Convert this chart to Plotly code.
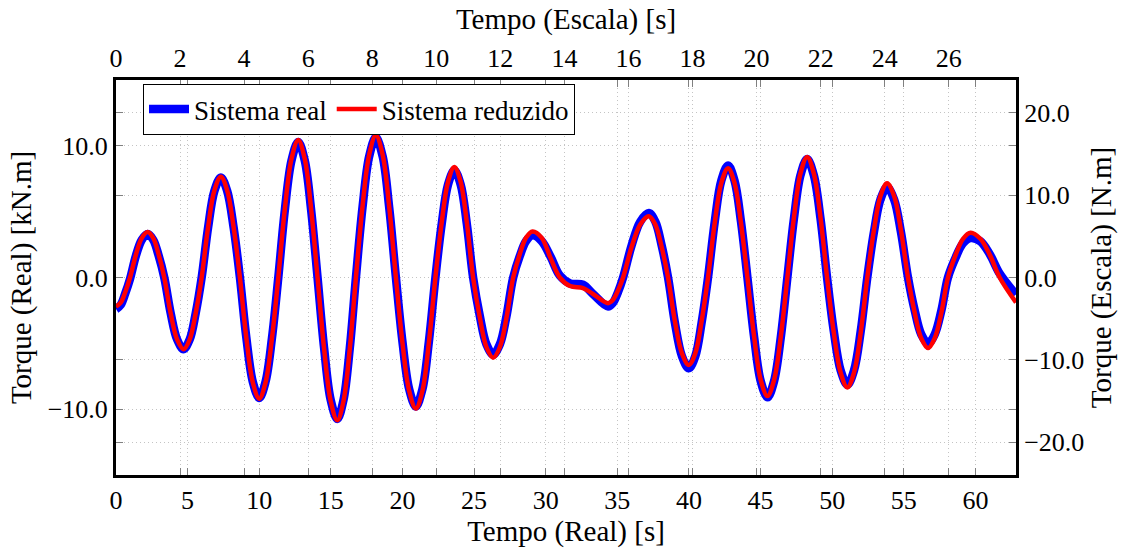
import plotly.graph_objects as go

# Time (real) [s]
t_real = [0.00, 0.33, 0.65, 0.98, 1.39, 1.80, 2.21, 2.60, 2.98, 3.37,
          3.82, 4.27, 4.72, 5.14, 5.56, 5.98, 6.43, 6.87, 7.32, 7.76,
          8.21, 8.65, 9.10, 9.55, 10.00, 10.44, 10.89, 11.33, 11.79, 12.26,
          12.72, 13.17, 13.62, 14.07, 14.53, 14.99, 15.45, 15.88, 16.32, 16.75,
          17.21, 17.68, 18.14, 18.61, 19.07, 19.54, 20.00, 20.47, 20.93, 21.39,
          21.84, 22.30, 22.74, 23.18, 23.62, 24.06, 24.49, 24.93, 25.40, 25.86,
          26.33, 26.80, 27.26, 27.73, 28.18, 28.63, 29.08, 29.71, 30.35, 30.98,
          31.70, 32.60, 33.30, 34.35, 34.70, 35.05, 35.40, 36.00, 36.60, 37.20,
          37.65, 38.09, 38.54, 39.02, 39.51, 39.99, 40.44, 40.88, 41.33, 41.80,
          42.26, 42.73, 43.18, 43.63, 44.08, 44.55, 45.01, 45.48, 45.94, 46.41,
          46.87, 47.33, 47.79, 48.25, 48.71, 49.18, 49.64, 50.11, 50.59, 51.06,
          51.52, 51.99, 52.45, 52.91, 53.37, 53.83, 54.32, 54.80, 55.29, 55.76,
          56.22, 56.69, 57.15, 57.62, 58.08, 58.61, 59.13, 59.66, 60.34, 61.01,
          61.69, 62.83]

# Torque, real system [kN.m]
torque_real = [-2.40, -2.08, -1.20, -0.10, 1.65, 2.86, 3.30, 2.86, 1.65, 0.00,
               -2.73, -4.72, -5.45, -4.72, -2.73, 0.00, 3.80, 6.58, 7.60, 6.58,
               3.80, 0.00, -4.58, -7.92, -9.15, -7.92, -4.58, 0.00, 5.15, 8.92,
               10.30, 8.92, 5.15, 0.00, -5.38, -9.31, -10.75, -9.31, -5.38, 0.00,
               5.33, 9.22, 10.65, 9.22, 5.33, 0.00, -4.90, -8.49, -9.80, -8.49,
               -4.90, 0.00, 4.08, 7.06, 8.15, 7.06, 4.08, 0.00, -2.93, -5.07,
               -5.85, -5.07, -2.93, 0.00, 1.60, 2.77, 3.20, 2.77, 1.55, 0.15,
               -0.45, -0.55, -1.25, -2.20, -1.91, -1.10, 0.00, 2.45, 4.24, 4.90,
               4.24, 2.45, 0.00, -3.45, -5.98, -6.90, -5.98, -3.45, 0.00, 4.25,
               7.36, 8.50, 7.36, 4.25, 0.00, -4.55, -7.88, -9.10, -7.88, -4.55,
               0.00, 4.50, 7.79, 9.00, 7.79, 4.50, 0.00, -4.08, -7.06, -8.15,
               -7.06, -4.08, 0.00, 3.43, 5.93, 6.85, 5.93, 3.43, 0.00, -2.50,
               -4.33, -5.00, -4.33, -2.50, 0.00, 1.50, 2.60, 3.00, 2.75, 1.75,
               0.30, -1.30]

# Torque, reduced system [kN.m]
torque_reduced = [-2.20, -1.91, -1.10, 0.00, 1.73, 2.99, 3.45, 2.99, 1.73, 0.00,
                  -2.73, -4.72, -5.45, -4.72, -2.73, 0.00, 3.83, 6.62, 7.65, 6.62,
                  3.83, 0.00, -4.60, -7.97, -9.20, -7.97, -4.60, 0.00, 5.23, 9.05,
                  10.45, 9.05, 5.23, 0.00, -5.43, -9.40, -10.85, -9.40, -5.43, 0.00,
                  5.40, 9.35, 10.80, 9.35, 5.40, 0.00, -4.98, -8.62, -9.95, -8.62,
                  -4.98, 0.00, 4.20, 7.27, 8.40, 7.27, 4.20, 0.00, -3.05, -5.28,
                  -6.10, -5.28, -3.05, 0.00, 1.75, 3.03, 3.50, 3.03, 1.45, 0.00,
                  -0.65, -0.80, -1.25, -1.95, -1.69, -0.98, 0.00, 2.33, 4.03, 4.65,
                  4.03, 2.33, 0.00, -3.33, -5.76, -6.65, -5.76, -3.33, 0.00, 4.15,
                  7.19, 8.30, 7.19, 4.15, 0.00, -4.50, -7.79, -9.00, -7.79, -4.50,
                  0.00, 4.58, 7.92, 9.15, 7.92, 4.58, 0.00, -4.18, -7.23, -8.35,
                  -7.23, -4.18, 0.00, 3.58, 6.19, 7.15, 6.19, 3.58, 0.00, -2.68,
                  -4.63, -5.35, -4.63, -2.68, 0.00, 1.70, 2.94, 3.40, 2.94, 1.70,
                  0.00, -1.90]

bottom_ticks = [0, 5, 10, 15, 20, 25, 30, 35, 40, 45, 50, 55, 60]
top_ticks = [0, 2, 4, 6, 8, 10, 12, 14, 16, 18, 20, 22, 24, 26]
left_ticks = [-10, 0, 10]
right_ticks = [-20, -10, 0, 10, 20]

T_MAX = 62.83
TIME_SCALE = 5 ** 0.5
LEFT_RANGE = [-15, 15]
RIGHT_RANGE = [-24, 24]

FONT = "Liberation Serif"
TICK_SIZE = 26
TITLE_SIZE = 29
LEGEND_SIZE = 27
GRID = "#c4c4c4"
SMOOTH = 1.0

fig = go.Figure()
fig.add_trace(go.Scatter(
    x=t_real, y=torque_real, mode="lines", name="Sistema real",
    line=dict(color="#0000ff", width=8.5, shape="spline", smoothing=SMOOTH)))
fig.add_trace(go.Scatter(
    x=t_real, y=torque_reduced, mode="lines", name="Sistema reduzido",
    line=dict(color="#ff0000", width=4.5, shape="spline", smoothing=SMOOTH)))
# empty trace so the secondary (scaled) axes are rendered
fig.add_trace(go.Scatter(x=[None], y=[None], xaxis="x2", yaxis="y2",
                         mode="lines", showlegend=False, hoverinfo="skip"))

common = dict(showgrid=True, gridcolor=GRID, griddash="1px,3px", gridwidth=1,
              zeroline=False, ticks="inside", ticklen=7, tickcolor="#808080",
              tickwidth=1, showline=True, linecolor="black", linewidth=3,
              mirror="ticks",
              tickfont=dict(family=FONT, size=TICK_SIZE, color="black"))

fig.update_layout(
    width=1136, height=552,
    margin=dict(l=116, r=120, t=80, b=75),
    plot_bgcolor="white", paper_bgcolor="white",
    font=dict(family=FONT, color="black"),
    showlegend=True,
    legend=dict(x=0.03, y=0.99, xanchor="left", yanchor="top",
                orientation="h", bgcolor="white", bordercolor="black",
                borderwidth=1, font=dict(family=FONT, size=LEGEND_SIZE),
                itemwidth=40, tracegroupgap=0),
    xaxis=dict(range=[0, T_MAX], tickvals=bottom_ticks,
               title=dict(text="Tempo (Real) [s]", font=dict(size=TITLE_SIZE), standoff=4),
               **common),
    xaxis2=dict(range=[0, T_MAX / TIME_SCALE], tickvals=top_ticks,
                overlaying="x", side="top", anchor="y2",
                title=dict(text="Tempo (Escala) [s]", font=dict(size=TITLE_SIZE), standoff=6),
                **common),
    yaxis=dict(range=LEFT_RANGE, tickvals=left_ticks, tickformat=".1f",
               title=dict(text="Torque (Real) [kN.m]", font=dict(size=TITLE_SIZE), standoff=8),
               **common),
    yaxis2=dict(range=RIGHT_RANGE, tickvals=right_ticks, tickformat=".1f",
                overlaying="y", side="right", anchor="x2",
                title=dict(text="Torque (Escala) [N.m]", font=dict(size=TITLE_SIZE), standoff=8),
                **common),
)

fig.write_html("out.html")
